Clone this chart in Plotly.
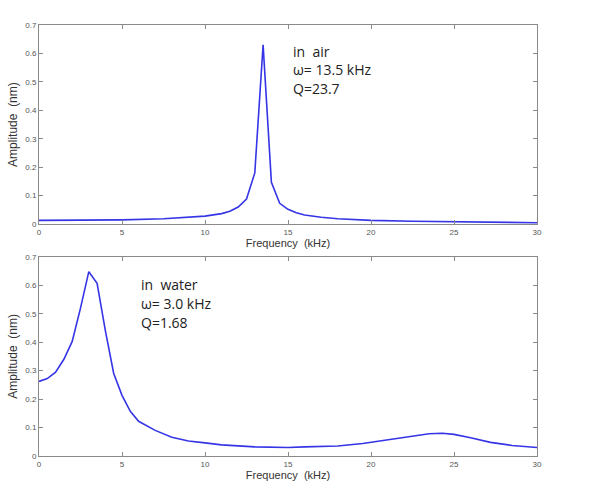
import plotly.graph_objects as go
from plotly.subplots import make_subplots

# Top panel: in air
freq_air = [0, 2.5, 5, 7.5, 9, 10, 11, 11.5, 12, 12.5, 13, 13.5, 14, 14.5, 15, 15.5, 16, 17, 18, 20, 22.5, 25, 27.5, 30]
amp_air = [0.013, 0.014, 0.015, 0.019, 0.023, 0.028, 0.037, 0.045, 0.06, 0.088, 0.18, 0.63, 0.147, 0.073, 0.052, 0.04, 0.032, 0.024, 0.019, 0.013, 0.01, 0.008, 0.006, 0.005]

# Bottom panel: in water
freq_water = [0, 0.5, 1, 1.5, 2, 2.5, 3, 3.5, 4, 4.5, 5, 5.5, 6, 7, 8, 9, 10, 11, 13, 15, 16, 18, 19.5, 21, 22.5, 23.5, 24.3, 25, 26, 27.2, 28.5, 29.5, 30]
amp_water = [0.262, 0.272, 0.295, 0.34, 0.403, 0.52, 0.648, 0.607, 0.44, 0.29, 0.213, 0.157, 0.122, 0.09, 0.066, 0.053, 0.046, 0.039, 0.032, 0.03, 0.032, 0.035, 0.044, 0.056, 0.07, 0.078, 0.08, 0.076, 0.064, 0.048, 0.037, 0.031, 0.03]

x_ticks = [0, 5, 10, 15, 20, 25, 30]
y_ticks = [0, 0.1, 0.2, 0.3, 0.4, 0.5, 0.6, 0.7]
y_tick_labels = ["0", "0.1", "0.2", "0.3", "0.4", "0.5", "0.6", "0.7"]

labels_air = ["in  air", "ω= 13.5 kHz", "Q=23.7"]
labels_water = ["in  water", "ω= 3.0 kHz", "Q=1.68"]

line_color = "#3535e6"

fig = make_subplots(rows=2, cols=1, vertical_spacing=0.076)

fig.add_trace(go.Scatter(x=freq_air, y=amp_air, mode="lines",
                         line=dict(color=line_color, width=1.6), showlegend=False), row=1, col=1)
fig.add_trace(go.Scatter(x=freq_water, y=amp_water, mode="lines",
                         line=dict(color=line_color, width=1.6), showlegend=False), row=2, col=1)

axis_common = dict(showline=True, linecolor="#8a8a8a", linewidth=1, mirror="ticks",
                   ticks="inside", ticklen=4, tickcolor="#8a8a8a", showgrid=False, zeroline=False,
                   tickfont=dict(family="Liberation Sans, Arial", size=8, color="#555555"))

for r in (1, 2):
    fig.update_xaxes(range=[0, 30], tickvals=x_ticks, ticktext=[str(v) for v in x_ticks],
                     title=dict(text="Frequency  (kHz)", standoff=2,
                                font=dict(family="Liberation Sans, Arial", size=11, color="#333333")),
                     ticklabelstandoff=0, row=r, col=1, **axis_common)
    fig.update_yaxes(range=[0, 0.7], tickvals=y_ticks, ticktext=y_tick_labels,
                     title=dict(text="Amplitude  (nm)", standoff=5,
                                font=dict(family="Liberation Sans, Arial", size=12, color="#333333")),
                     row=r, col=1, **axis_common)

fig.update_layout(
    width=599, height=490,
    margin=dict(l=36, r=62, t=25, b=30),
    paper_bgcolor="white", plot_bgcolor="white",
)
fig.update_yaxes(domain=[0.538, 1.0], row=1, col=1)
fig.update_yaxes(domain=[0.0, 0.462], row=2, col=1)

ann_font = dict(family="Open Sans, Noto Sans, sans-serif", size=14, color="#222222")
for txt, yv in zip(labels_air, [0.608, 0.542, 0.476]):
    fig.add_annotation(x=15.2, y=yv, xref="x", yref="y", text=txt, showarrow=False,
                       xanchor="left", yanchor="middle", font=ann_font)
for txt, yv in zip(labels_water, [0.602, 0.536, 0.470]):
    fig.add_annotation(x=6.05, y=yv, xref="x2", yref="y2", text=txt, showarrow=False,
                       xanchor="left", yanchor="middle", font=ann_font)

fig.write_html("out.html")
